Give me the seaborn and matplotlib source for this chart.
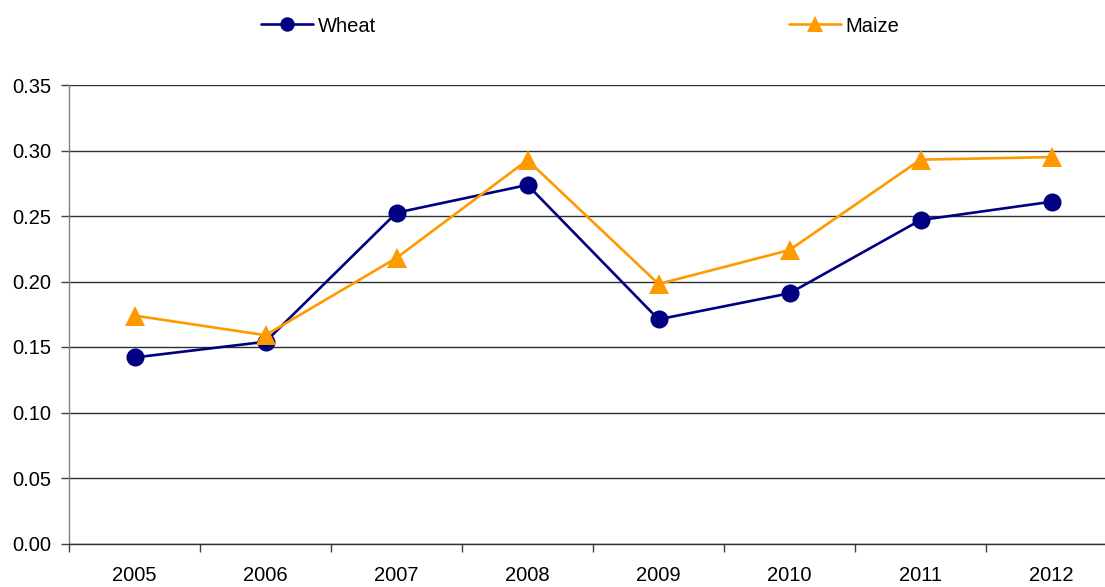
import matplotlib
matplotlib.use("Agg")
import matplotlib.pyplot as plt
import seaborn as sns
import pandas as pd
import numpy as np
from matplotlib.ticker import FixedLocator

years = ["2005", "2006", "2007", "2008", "2009", "2010", "2011", "2012"]
wheat = [0.142, 0.154, 0.2525, 0.2737, 0.1711, 0.1910, 0.2469, 0.2609]
maize = [0.174, 0.159, 0.218, 0.2927, 0.1981, 0.2240, 0.2930, 0.2950]
yticks = [0.00, 0.05, 0.10, 0.15, 0.20, 0.25, 0.30, 0.35]
series_names = ["Wheat", "Maize"]
colors = {"Wheat": "#000080", "Maize": "#FF9900"}
markers = {"Wheat": "o", "Maize": "^"}

idx = list(range(len(years)))
df = pd.DataFrame({
    "pos": idx * 2,
    "value": wheat + maize,
    "crop": ["Wheat"] * len(years) + ["Maize"] * len(years),
})

sns.set_style("white")
plt.rcParams["font.family"] = ["Liberation Sans", "DejaVu Sans"]
plt.rcParams["text.color"] = "black"
plt.rcParams["xtick.color"] = "black"
plt.rcParams["ytick.color"] = "black"

fig = plt.figure(figsize=(11.05, 5.87), dpi=100)
W, H = 1105, 587
left, right, top, bottom = 69, 1117, 85, 543.5
ax = fig.add_axes([left / W, 1 - bottom / H, (right - left) / W, (bottom - top) / H])

sns.lineplot(data=df, x="pos", y="value", hue="crop", style="crop",
             hue_order=series_names, style_order=series_names,
             palette=colors, markers=markers, dashes=False,
             markersize=13, markeredgewidth=0, linewidth=1.9, ax=ax,
             legend=True)
for ln in ax.lines:
    if ln.get_marker() == "^":
        ln.set_markersize(14)

ax.set_xlim(-0.5, len(years) - 0.5)
ax.set_ylim(0, 0.35)
ax.set_yticks(yticks)
ax.set_yticklabels([f"{v:.2f}" for v in yticks])
ax.set_xticks(idx)
ax.set_xticklabels(years)
ax.xaxis.set_minor_locator(FixedLocator([i - 0.5 for i in range(len(years) + 1)]))
ax.tick_params(axis="x", which="major", length=0, pad=16, labelsize=14.5, labelcolor="black")
ax.tick_params(axis="x", which="minor", length=6, width=1, color="#404040", direction="out", bottom=True)
ax.tick_params(axis="y", length=6, width=1, color="#404040", pad=7, labelsize=14.5,
               labelcolor="black", direction="out", left=True)
ax.set_xlabel("")
ax.set_ylabel("")

ax.grid(axis="y", color="#303030", linewidth=1)
ax.grid(axis="x", visible=False)
ax.set_axisbelow(True)
for s in ["top", "right"]:
    ax.spines[s].set_visible(False)
ax.spines["left"].set_color("#808080")
ax.spines["left"].set_linewidth(1)
ax.spines["bottom"].set_color("#303030")
ax.spines["bottom"].set_linewidth(1)

handles, labels = ax.get_legend_handles_labels()
ax.legend_.remove()
leg = fig.legend(handles, labels, loc="center", bbox_to_anchor=(580 / W, 1 - 26 / H),
                 ncol=2, frameon=False, fontsize=14.5, columnspacing=20.5,
                 handlelength=2.6, handletextpad=0.2, markerscale=0.8)
for t in leg.get_texts():
    t.set_color("black")

fig.savefig("out.png", dpi=100)
